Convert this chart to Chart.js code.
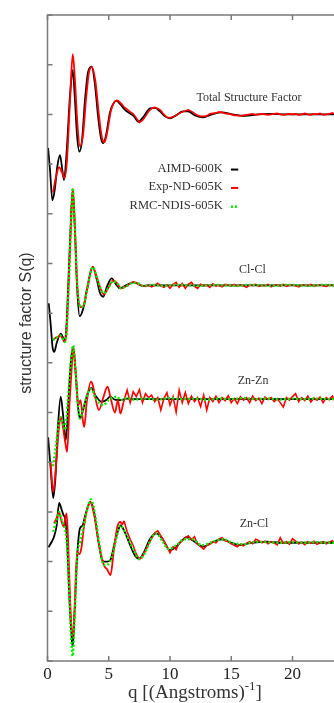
<!DOCTYPE html>
<html>
<head>
<meta charset="utf-8">
<script src="https://cdn.jsdelivr.net/npm/chart.js@4.4.1/dist/chart.umd.min.js"></script>
<style>
html,body{margin:0;padding:0;background:#fff;overflow:hidden;width:334px;height:703px;}
canvas{display:block;}
</style>
</head>
<body>
<canvas id="c" width="400" height="703"></canvas>
<script>
// ---------- data ----------
const xTicks = [0, 5, 10, 15, 20, 25];
const seriesNames = ['AIMD-600K', 'Exp-ND-605K', 'RMC-NDIS-605K'];
const panelNames = ['Total Structure Factor', 'Cl-Cl', 'Zn-Zn', 'Zn-Cl'];

// common fine q grid for the noisy experimental tails
const qFine = [6.5,6.75,7,7.25,7.5,7.75,8,8.25,8.5,8.75,9,9.25,9.5,9.75,10,10.25,10.5,10.75,11,11.25,11.5,11.75,12,12.25,12.5,12.75,13,13.25,13.5,13.75,14,14.25,14.5,14.75,15,15.25,15.5,15.75,16,16.25,16.5,16.75,17,17.25,17.5,17.75,18,18.25,18.5,18.75,19,19.25,19.5,19.75,20,20.25,20.5,20.75,21,21.25,21.5,21.75,22,22.25,22.5,22.75,23,23.25,23.5,23.75,24,24.25,24.5,24.75,25];

// Total structure factor
const totAimdQ = [0.05,0.2,0.4,0.6,0.8,1.02,1.2,1.35,1.55,1.84,2.06,2.24,2.41,2.6,2.82,3.06,3.31,3.61,3.88,4.12,4.37,4.55,4.78,5.1,5.43,5.65,5.92,6.33,6.73,7.06,7.41,7.8,8.37,8.78,9.18,9.59,10.0,10.49,11.06,11.47,12.04,12.69,13.43,14.24,15.06,16.12,17.18,18.16,19.5,21,22.5,24,25];
const totAimdS = [10.32,9.9,9.27,9.5,9.95,10.18,9.9,9.68,10.2,11.39,11.89,11.29,10.58,10.25,10.48,11.29,11.85,11.96,11.59,10.98,10.52,10.42,10.58,11.04,11.24,11.27,11.21,11.09,11.02,10.96,10.85,10.94,11.12,11.13,11.06,10.96,10.92,10.98,11.06,11.06,10.98,10.94,11.0,11.04,11.0,10.97,11.0,11.01,11.0,11.0,11.0,11.0,11.0];
const totExpQ = [0.45,0.7,0.95,1.15,1.4,1.59,1.84,2.06,2.24,2.45,2.65,2.9,3.14,3.39,3.63,3.92,4.2,4.45,4.65,4.86,5.18,5.67,6.0,6.25];
const totExpS = [9.43,9.75,9.94,9.85,9.72,10.08,11.28,12.21,11.69,10.78,10.36,10.58,11.29,11.85,11.95,11.65,10.98,10.52,10.44,10.62,11.08,11.28,11.22,11.15];
const totExpTail = [
 11.1,11.05,11.01,10.93,10.84,10.88,10.96,11.06,11.12,11.14,
 11.12,11.08,11.0,10.94,10.93,10.95,10.98,11.02,11.05,11.07,
 11.09,11.06,11.02,10.98,10.96,10.96,10.97,11.01,11.02,11.03,
 11.05,11.04,11.02,11.01,11.0,10.98,10.98,10.97,10.98,10.99,
 11.0,11.01,10.99,11.0,11.01,11.0,10.99,11.0,11.01,11.02,
 11.0,10.99,11.0,11.01,11.0,11.01,10.99,11.0,11.02,11.0,
 10.99,11.01,11.0,11.02,10.99,11.0,11.01,11.03,10.99,11.0,
 11.01,11.0,10.99,11.01,11.0];

// Cl-Cl
const clclAimdQ = [0.1,0.25,0.42,0.55,0.75,1.08,1.25,1.4,1.55,1.7,1.9,2.06,2.22,2.42,2.62,2.9,3.2,3.69,4.04,4.29,4.55,4.86,5.24,5.59,5.92,6.41,6.98,7.31,7.71,8.5,10,12,15,18,21,25];
const clclAimdS = [7.2,6.8,6.3,6.22,6.4,6.59,6.52,6.42,6.75,7.6,8.8,9.47,8.8,7.5,6.94,7.08,7.45,7.93,7.66,7.4,7.33,7.54,7.7,7.58,7.5,7.56,7.62,7.6,7.55,7.56,7.56,7.56,7.56,7.56,7.56,7.56];
const clclExpQ = [0.45,0.65,0.85,1.05,1.2,1.4,1.55,1.7,1.9,2.06,2.22,2.42,2.7,2.95,3.25,3.69,4.05,4.35,4.6,4.95,5.35,5.7,6.0,6.25];
const clclExpS = [6.46,6.5,6.52,6.55,6.5,6.42,6.6,7.4,8.7,9.5,8.8,7.6,7.12,7.15,7.5,7.93,7.7,7.48,7.38,7.5,7.66,7.6,7.5,7.52];
const clclExpTail = [
 7.55,7.6,7.63,7.61,7.57,7.55,7.54,7.57,7.53,7.56,
 7.6,7.55,7.52,7.57,7.5,7.58,7.62,7.52,7.6,7.5,
 7.58,7.62,7.54,7.5,7.58,7.55,7.57,7.52,7.59,7.55,
 7.56,7.53,7.58,7.56,7.55,7.58,7.54,7.57,7.55,7.52,
 7.57,7.56,7.58,7.54,7.56,7.55,7.58,7.53,7.56,7.57,
 7.55,7.58,7.54,7.56,7.57,7.55,7.53,7.57,7.56,7.55,
 7.58,7.54,7.56,7.57,7.55,7.54,7.57,7.56,7.53,7.58,
 7.55,7.56,7.57,7.54,7.56];
const clclRmcQ = [0.45,0.65,0.85,1.05,1.2,1.4,1.55,1.7,1.9,2.06,2.22,2.42,2.7,2.95,3.25,3.69,4.05,4.35,4.6,4.95,5.35,5.7,6.0,6.5,7.0,7.4,7.8,8.5,9.5,10.5,11.5,12.5,13.5,14.5,15.5,16.5,17.5,18.5,19.5,20.5,21.5,22.5,23.5,24.5,25];
const clclRmcS = [6.46,6.5,6.52,6.55,6.5,6.42,6.6,7.4,8.7,9.52,8.8,7.6,7.12,7.15,7.5,7.93,7.7,7.48,7.4,7.5,7.64,7.6,7.5,7.55,7.61,7.6,7.55,7.57,7.55,7.57,7.56,7.55,7.57,7.56,7.55,7.57,7.56,7.55,7.57,7.56,7.55,7.57,7.56,7.55,7.56];

// Zn-Zn
const znznAimdQ = [0.05,0.25,0.47,0.65,0.85,1.08,1.25,1.5,1.7,1.9,2.1,2.3,2.5,2.65,2.9,3.3,3.6,3.9,4.4,4.8,5.1,5.5,6.0,6.5,7.0,8,10,13,16,19,22,25];
const znznAimdS = [4.5,3.9,3.28,3.7,4.7,5.32,5.0,4.45,5.2,6.0,6.32,5.8,5.1,4.88,5.05,5.4,5.49,5.35,5.22,5.25,5.32,5.26,5.25,5.28,5.27,5.27,5.27,5.27,5.27,5.27,5.27,5.27];
const znznExpQ = [0.25,0.47,0.7,0.9,1.08,1.2,1.45,1.6,1.8,2.0,2.1,2.3,2.5,2.7,2.88,3.0,3.2,3.55,3.7,3.9,4.2,4.55,4.9,5.15,5.5,5.75,5.95,6.2];
const znznExpS = [4.0,3.4,3.95,4.6,4.91,4.8,4.4,4.21,5.2,6.0,6.32,5.8,5.15,5.25,4.85,4.71,5.2,5.62,5.55,5.3,5.05,5.3,5.52,5.3,5.0,5.25,4.98,5.2];
const znznExpTail = [
 5.45,5.2,5.42,5.32,5.46,5.2,5.38,5.3,5.35,5.22,
 5.3,5.05,5.28,5.4,5.15,5.32,5.01,5.45,5.2,5.4,
 5.18,5.33,5.22,5.3,5.12,5.35,5.05,5.3,5.22,5.33,
 5.2,5.3,5.24,5.34,5.2,5.28,5.18,5.32,5.25,5.3,
 5.2,5.33,5.24,5.29,5.18,5.31,5.26,5.3,5.22,5.28,
 5.2,5.11,5.3,5.25,5.32,5.38,5.22,5.3,5.24,5.33,
 5.21,5.29,5.25,5.31,5.2,5.3,5.26,5.33,5.22,5.28,
 5.24,5.31,5.23,5.3,5.26];
const znznRmcQ = [0.45,0.7,0.9,1.08,1.3,1.43,1.65,1.9,2.1,2.3,2.5,2.65,2.9,3.3,3.6,3.9,4.55,5.0,5.65,6.0,6.5,7,8,9,10,11,12,13,14,15,16,17,18,19,20,21,22,23,24,25];
const znznRmcS = [3.92,4.35,4.75,4.9,4.75,4.65,5.2,6.0,6.35,5.8,5.1,4.88,5.05,5.4,5.47,5.3,5.15,5.25,5.32,5.25,5.29,5.26,5.28,5.26,5.29,5.27,5.28,5.26,5.28,5.27,5.29,5.27,5.28,5.26,5.28,5.27,5.28,5.27,5.28,5.27];

// Zn-Cl
const znclAimdQ = [0.08,0.35,0.53,0.75,0.95,1.15,1.3,1.45,1.6,1.8,2.0,2.06,2.2,2.42,2.65,2.85,3.1,3.5,3.8,4.1,4.4,4.6,4.9,5.15,5.5,5.8,5.95,6.3,6.8,7.2,7.5,7.9,8.35,8.9,9.4,10.0,10.5,11.0,11.35,11.9,12.7,13.4,14.2,15.0,15.7,16.5,17.9,19,20,22,25];
const znclAimdS = [2.29,2.4,2.5,2.73,3.18,3.05,2.94,2.85,2.4,1.2,0.4,0.29,0.9,2.1,2.67,2.72,2.95,3.2,3.0,2.5,2.08,2.0,2.0,2.04,2.4,2.65,2.73,2.6,2.3,2.1,2.06,2.2,2.45,2.57,2.45,2.23,2.3,2.43,2.49,2.42,2.3,2.38,2.45,2.38,2.33,2.37,2.4,2.38,2.38,2.38,2.38];
const znclExpQ = [0.53,0.75,0.95,1.1,1.33,1.4,1.56,1.7,1.85,2.06,2.2,2.42,2.6,2.75,3.0,3.3,3.5,3.8,4.2,4.6,4.85,5.15,5.4,5.7,5.95,6.1,6.25];
const znclExpS = [2.77,2.88,3.0,2.85,2.7,2.8,2.97,2.3,1.2,0.49,1.0,2.2,2.15,2.25,2.75,3.1,3.2,2.95,2.35,1.93,1.85,1.73,2.2,2.7,2.8,2.75,2.82];
const znclExpTail = [
 2.6,2.45,2.32,2.15,2.05,2.1,2.22,2.35,2.47,2.58,
 2.62,2.52,2.42,2.3,2.18,2.3,2.24,2.38,2.42,2.48,
 2.52,2.44,2.5,2.35,2.3,2.25,2.33,2.35,2.4,2.38,
 2.45,2.48,2.42,2.4,2.36,2.33,2.3,2.35,2.32,2.37,
 2.4,2.36,2.45,2.42,2.38,2.41,2.36,2.4,2.38,2.34,
 2.48,2.37,2.4,2.35,2.46,2.41,2.36,2.39,2.34,2.4,
 2.37,2.41,2.35,2.38,2.4,2.36,2.39,2.42,2.35,2.38,
 2.4,2.36,2.39,2.37,2.38];
const znclRmcQ = [0.47,0.75,0.95,1.2,1.43,1.6,1.8,2.06,2.2,2.42,2.65,2.85,3.1,3.55,3.85,4.2,4.6,5.0,5.4,5.8,5.95,6.4,7.0,7.5,8.0,8.5,8.9,9.4,9.9,10.5,11.2,11.8,12.6,13.5,14.3,15.2,16.0,17,18,19,20,21,22,23,24,25];
const znclRmcS = [2.6,2.85,3.0,2.8,2.67,2.3,1.2,0.1,0.8,2.1,2.4,2.6,2.9,3.25,3.0,2.4,1.93,1.95,2.25,2.65,2.73,2.55,2.25,2.05,2.2,2.48,2.57,2.4,2.25,2.33,2.45,2.45,2.33,2.4,2.45,2.37,2.35,2.4,2.39,2.38,2.39,2.38,2.39,2.38,2.38,2.38];

// ---------- build ----------
function pts(qs, ss) { return qs.map((q, i) => ({ x: q, y: ss[i] })); }
// tail starts at the last point of the head so the two pieces join
function tailPts(qs, ss, tail) {
  const n = qs.length - 1;
  return [{ x: qs[n], y: ss[n] }].concat(pts(qFine, tail));
}

const BLACK = '#000000', RED = '#ff0000', GREEN = '#00f000';
function black(data) { return { data, borderColor: BLACK, borderWidth: 1.8, order: 3 }; }
function red(data) { return { data, borderColor: RED, borderWidth: 1.8, order: 2 }; }
function redTail(data) { return { data, borderColor: RED, borderWidth: 1.6, order: 2, cubicInterpolationMode: 'default', tension: 0 }; }
function green(data) { return { data, borderColor: GREEN, borderWidth: 2.4, borderDash: [2, 2], order: 1 }; }

const datasets = [
  black(pts(totAimdQ, totAimdS)),
  red(pts(totExpQ, totExpS)),
  redTail(tailPts(totExpQ, totExpS, totExpTail)),
  black(pts(clclAimdQ, clclAimdS)),
  red(pts(clclExpQ, clclExpS)),
  redTail(tailPts(clclExpQ, clclExpS, clclExpTail)),
  green(pts(clclRmcQ, clclRmcS)),
  black(pts(znznAimdQ, znznAimdS)),
  red(pts(znznExpQ, znznExpS)),
  redTail(tailPts(znznExpQ, znznExpS, znznExpTail)),
  green(pts(znznRmcQ, znznRmcS)),
  black(pts(znclAimdQ, znclAimdS)),
  red(pts(znclExpQ, znclExpS)),
  redTail(tailPts(znclExpQ, znclExpS, znclExpTail)),
  green(pts(znclRmcQ, znclRmcS))
];

// text placement (data coordinates)
const panelLabelQ = [16.45, 16.73, 16.78, 16.86];
const panelLabelS = [11.33, 7.87, 5.63, 2.77];
const legendTextQ = 14.3;
const legendSampleQ = [14.98, 15.57];
const legendS = [9.91, 9.54, 9.16];

const TEXT = '#333333';
const AXIS = '#7a7a7a';

const decor = {
  id: 'decor',
  afterDraw(chart) {
    const { ctx, chartArea: a, scales: { x, y } } = chart;
    ctx.save();
    // frame + inward ticks
    ctx.strokeStyle = AXIS; ctx.lineWidth = 1.5;
    ctx.strokeRect(a.left, a.top, a.right - a.left, a.bottom - a.top);
    ctx.beginPath();
    x.ticks.forEach(t => {
      const px = x.getPixelForValue(t.value);
      ctx.moveTo(px, a.bottom); ctx.lineTo(px, a.bottom - 5);
      ctx.moveTo(px, a.top); ctx.lineTo(px, a.top + 5);
    });
    y.ticks.forEach(t => {
      const py = y.getPixelForValue(t.value);
      ctx.moveTo(a.left, py); ctx.lineTo(a.left + 5, py);
      ctx.moveTo(a.right, py); ctx.lineTo(a.right - 5, py);
    });
    ctx.stroke();

    // panel labels
    ctx.fillStyle = TEXT;
    ctx.font = '12px "Liberation Serif", "Times New Roman", serif';
    ctx.textAlign = 'center'; ctx.textBaseline = 'middle';
    panelNames.forEach((n, i) => ctx.fillText(n, x.getPixelForValue(panelLabelQ[i]), y.getPixelForValue(panelLabelS[i])));

    // legend
    ctx.font = '12.5px "Liberation Serif", "Times New Roman", serif';
    ctx.textAlign = 'right';
    const cols = [BLACK, RED, GREEN];
    seriesNames.forEach((n, i) => {
      const py = y.getPixelForValue(legendS[i]);
      ctx.fillStyle = TEXT;
      ctx.fillText(n, x.getPixelForValue(legendTextQ), py);
      ctx.beginPath();
      ctx.strokeStyle = cols[i];
      ctx.lineWidth = i === 2 ? 2.4 : 2;
      ctx.setLineDash(i === 2 ? [2, 2] : []);
      ctx.moveTo(x.getPixelForValue(legendSampleQ[0]), py + 1);
      ctx.lineTo(x.getPixelForValue(legendSampleQ[1]), py + 1);
      ctx.stroke();
    });
    ctx.setLineDash([]);

    // x title with superscript
    ctx.fillStyle = TEXT;
    ctx.textAlign = 'left'; ctx.textBaseline = 'alphabetic';
    const f1 = '19px "Liberation Serif", "Times New Roman", serif';
    const f2 = '13px "Liberation Serif", "Times New Roman", serif';
    const s1 = 'q [(Angstroms)', s2 = '-1', s3 = ']';
    ctx.font = f1; const w1 = ctx.measureText(s1).width, w3 = ctx.measureText(s3).width;
    ctx.font = f2; const w2 = ctx.measureText(s2).width;
    let cx = 195 - (w1 + w2 + w3) / 2;
    const base = 698;
    ctx.font = f1; ctx.fillText(s1, cx, base); cx += w1;
    ctx.font = f2; ctx.fillText(s2, cx, base - 8); cx += w2;
    ctx.font = f1; ctx.fillText(s3, cx, base);

    // y title
    ctx.save();
    ctx.translate(31, 323);
    ctx.rotate(-Math.PI / 2);
    ctx.font = '16px "Liberation Sans", Arial, sans-serif';
    ctx.textAlign = 'center';
    ctx.fillText('structure factor S(q)', 0, 0);
    ctx.restore();

    ctx.restore();
  }
};

new Chart(document.getElementById('c'), {
  type: 'line',
  data: { datasets },
  options: {
    responsive: false,
    animation: false,
    devicePixelRatio: 1,
    layout: { padding: { left: 47.5, top: 15, right: 46.25, bottom: 0 } },
    elements: {
      point: { radius: 0 },
      line: { fill: false, cubicInterpolationMode: 'monotone' }
    },
    plugins: { legend: { display: false }, tooltip: { enabled: false } },
    scales: {
      x: {
        type: 'linear', min: 0, max: 25,
        afterBuildTicks(s) { s.ticks = xTicks.map(v => ({ value: v })); },
        afterFit(s) { s.height = 42; },
        grid: { display: false, drawTicks: false },
        border: { display: false },
        ticks: {
          padding: 3,
          color: '#222',
          font: { family: '"Liberation Serif", "Times New Roman", serif', size: 17 },
          maxRotation: 0, autoSkip: false
        }
      },
      y: {
        type: 'linear', min: 0, max: 13,
        ticks: { display: false, stepSize: 1 },
        afterFit(s) { s.width = 0; },
        grid: { display: false, drawTicks: false },
        border: { display: false }
      }
    }
  },
  plugins: [decor]
});
</script>
</body>
</html>
